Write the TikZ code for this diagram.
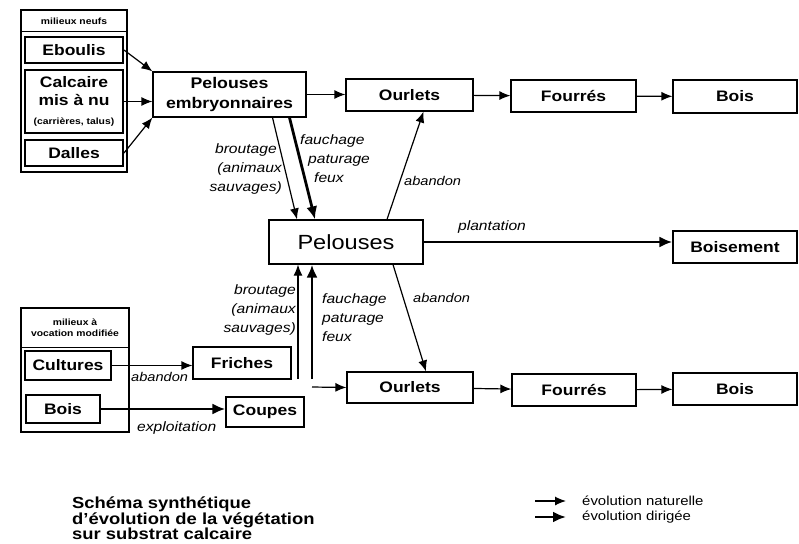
\documentclass[tikz,border=0pt]{standalone}
\usepackage{fontspec}
\setmainfont{Liberation Sans}[FakeStretch=1.15]
\usetikzlibrary{arrows.meta, calc}

\newcommand{\setfs}[2]{\fontsize{#1}{#2}\selectfont}

\tikzset{
	etat/.style={draw, line width=1.2pt, inner sep=0pt, align=center, font=\setfs{15.2}{18}\bfseries},
	milieu/.style={etat, line width=2pt},
	cadre/.style={draw, line width=1.2pt, inner sep=0pt},
	petit/.style={font=\setfs{9}{11}\bfseries, align=center, inner sep=0pt},
	natarrow/.style={line width=1.2pt, -{Latex[length=11pt, width=9pt]}},
	dirarrow/.style={line width=2.8pt, -{Latex[length=13pt, width=11pt]}},
	etiq/.style={font=\setfs{13.6}{19}\itshape, inner sep=0pt},
	petitetiq/.style={font=\setfs{12.7}{15}\itshape, inner sep=0pt},
	legende/.style={font=\setfs{13}{15}, anchor=west, inner sep=0pt},
}

\begin{document}
\begin{tikzpicture}[x=1pt, y=-1pt]
	\useasboundingbox (0,0) rectangle (799,543);

	% milieux neufs
	\begin{scope}
		\node[cadre, minimum width=106pt, minimum height=162pt] (neufs) at (74,91) {};
		\node[petit] (neufstit) at (74,21) {milieux neufs};
		\draw[line width=1.2pt] ([yshift=-22pt]neufs.north west) -- ([yshift=-22pt]neufs.north east);
		\node[milieu, minimum width=98pt, minimum height=26pt] (eboulis) at (74,50) {Eboulis};
		\node[milieu, minimum width=98pt, minimum height=63pt] (calc) at (74,101.5) {Calcaire\\mis à nu\\[1pt]{\setfs{9}{11}(carrières, talus)}};
		\node[milieu, minimum width=98pt, minimum height=26pt] (dalles) at (74,153) {Dalles};
	\end{scope}

	% milieux a vocation modifiee
	\begin{scope}
		\node[cadre, minimum width=108pt, minimum height=124pt] (vocat) at (75,370) {};
		\node[petit] (vocattit) at (75,328) {milieux à\\vocation modifiée};
		\draw[line width=1.2pt] ([yshift=-40pt]vocat.north west) -- ([yshift=-40pt]vocat.north east);
		\node[milieu, minimum width=86pt, minimum height=29pt] (cult) at (68,365.5) {Cultures};
		\node[milieu, minimum width=74pt, minimum height=28pt] (boisV) at (63,409) {Bois};
	\end{scope}

	% etats
	\node[etat, minimum width=153pt, minimum height=45pt, font=\setfs{15.4}{20}\bfseries] (pemb) at (229.5,94.5) {Pelouses\\embryonnaires};
	\node[etat, minimum width=127pt, minimum height=32pt] (ourlA) at (409.5,95) {Ourlets};
	\node[etat, minimum width=125pt, minimum height=32pt] (fourA) at (573.5,96) {Fourrés};
	\node[etat, minimum width=124pt, minimum height=33pt] (boisA) at (735,96.5) {Bois};
	\node[etat, minimum width=154pt, minimum height=44pt, font=\setfs{20.5}{24}] (pel) at (346,242) {Pelouses};
	\node[etat, minimum width=124pt, minimum height=32pt] (bsmt) at (735,247) {Boisement};
	\node[etat, minimum width=126pt, minimum height=31pt] (ourlB) at (410,387.5) {Ourlets};
	\node[etat, minimum width=124pt, minimum height=32pt] (fourB) at (574,390) {Fourrés};
	\node[etat, minimum width=124pt, minimum height=32pt] (boisB) at (735,389) {Bois};
	\node[etat, minimum width=98pt, minimum height=32pt] (fri) at (242,363) {Friches};
	\node[etat, minimum width=78pt, minimum height=30pt] (coup) at (265,412) {Coupes};

	% evolution naturelle
	\draw[natarrow] (eboulis.east) -- (pemb.north west);
	\draw[natarrow] (calc.east) -- (calc.east -| pemb.west);
	\draw[natarrow] (dalles.east) -- (pemb.south west);
	\draw[natarrow] (pemb.east) -- (pemb.east -| ourlA.west);
	\draw[natarrow] (ourlA) -- (fourA);
	\draw[natarrow] (fourA) -- (boisA);
	\draw[natarrow] ([xshift=43pt]pemb.south) -- ([xshift=-49pt]pel.north);
	\draw[natarrow] ([xshift=41pt]pel.north) -- ([xshift=14pt]ourlA.south);
	\draw[natarrow] ([xshift=47pt]pel.south) -- ([xshift=16pt]ourlB.north);
	\draw[natarrow] (ourlB) -- (fourB);
	\draw[natarrow] (fourB) -- (boisB);
	\draw[natarrow] (cult.east) -- (cult.east -| fri.west);
	\coordinate (montee) at (298,379);
	\draw[natarrow] (montee) -- (montee |- pel.south);
	\coordinate (depart) at (312,387);
	\draw[natarrow] (depart) -- (ourlB.west);

	% evolution dirigee
	\draw[dirarrow] ([xshift=60pt]pemb.south) -- ([xshift=-31pt]pel.north);
	\draw[dirarrow] (pel.east) -- (pel.east -| bsmt.west);
	\draw[dirarrow] (boisV.east) -- (boisV.east -| coup.west);
	\coordinate (monteeB) at (312,379);
	\draw[dirarrow] (monteeB) -- (monteeB |- pel.south);

	% etiquettes
	\node[etiq, align=right, anchor=east] (broutA) at (282,169) {broutage\hspace*{5pt}\\(animaux\hspace*{5pt}\\sauvages)};
	\node[etiq, align=left, anchor=west] (fauchA) at (300,159) {fauchage\\\hspace*{8pt}paturage\\\hspace*{14pt}feux};
	\node[etiq, align=right, anchor=east] (broutB) at (296,310) {broutage\\(animaux\\sauvages)};
	\node[etiq, align=left, anchor=west] (fauchB) at (322,318) {fauchage\\paturage\\feux};
	\node[petitetiq, anchor=west] (abA) at (404,181) {abandon};
	\node[petitetiq, anchor=west] (abB) at (413,298) {abandon};
	\node[petitetiq, anchor=west] (abC) at (131,377) {abandon};
	\node[etiq, anchor=west] (exploit) at (137,428) {exploitation};
	\node[etiq] (plant) at (492,227) {plantation};

	% titre et legende
	\node[font=\setfs{16}{15}\bfseries, align=left, anchor=north west, inner sep=0pt] (titre) at (72,497) {Schéma synthétique\\d'évolution de la végétation\\sur substrat calcaire};
	\node[legende] (natur) at (582,501) {évolution naturelle};
	\node[legende] (dirig) at (582,517) {évolution dirigée};
	\coordinate (natdeb) at (535,501);
	\coordinate (dirdeb) at (535,517);
	\draw[natarrow] (natdeb) -- ([xshift=-16pt]natur.west);
	\draw[dirarrow] (dirdeb) -- ([xshift=-16pt]dirig.west);
\end{tikzpicture}
\end{document}
